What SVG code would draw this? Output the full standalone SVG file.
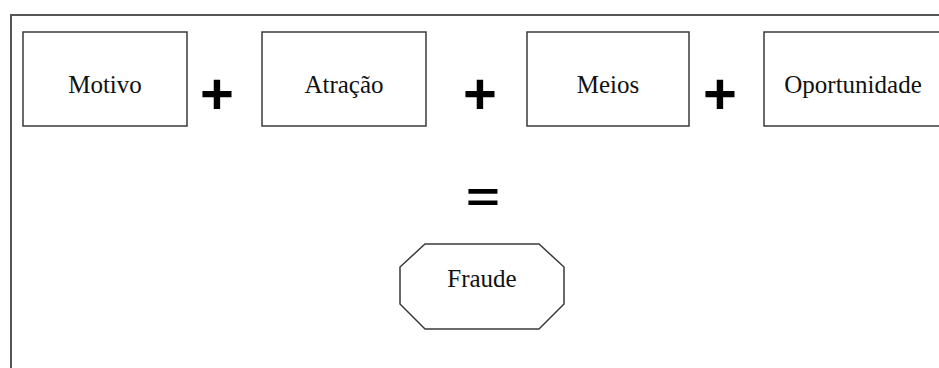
<svg xmlns="http://www.w3.org/2000/svg" width="939" height="368" viewBox="0 0 939 368">
<style>
.box{fill:#fff;stroke:#3a3a3a;stroke-width:1.5}
.lbl{font-family:"Liberation Serif","Times New Roman",serif;font-size:25px;fill:#111;text-anchor:middle}
.op{font-family:"Liberation Sans",Arial,sans-serif;font-weight:bold;font-size:58px;fill:#000;text-anchor:middle}
</style>
<rect width="939" height="368" fill="#fff"/>
<path d="M11,368 V15 H939" fill="none" stroke="#555" stroke-width="2"/>
<g id="motivo"><rect class="box" x="23" y="32" width="164" height="94"/><text class="lbl" x="105" y="93">Motivo</text></g>
<g id="atracao"><rect class="box" x="262" y="32" width="164" height="94"/><text class="lbl" x="344" y="93">Atração</text></g>
<g id="meios"><rect class="box" x="527" y="32" width="162" height="94"/><text class="lbl" x="608" y="93">Meios</text></g>
<g id="oportunidade"><rect class="box" x="764" y="32" width="180" height="94"/><text class="lbl" x="853" y="93">Oportunidade</text></g>
<g id="fraude"><polygon class="box" points="425,244 539,244 564,267 564,304 539,329 425,329 400,304 400,267"/><text class="lbl" x="482" y="287">Fraude</text></g>
<g id="operators">
<text class="op" x="217" y="114">+</text>
<text class="op" x="480" y="114">+</text>
<text class="op" x="720" y="114">+</text>
<text class="op" transform="translate(483,197.5) scale(1,0.72)" x="0" y="19.5">=</text>
</g>
</svg>
